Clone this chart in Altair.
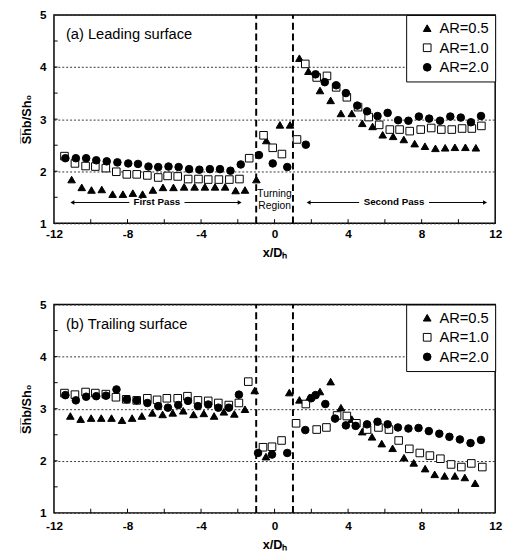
import altair as alt
import pandas as pd

SERIES = ["AR=0.5", "AR=1.0", "AR=2.0"]

# ---------------- (a) Leading surface ----------------
top_x_ar05 = [-11.04, -10.49, -9.96, -9.40, -8.81, -8.25, -7.71, -7.18, -6.62, -6.07, -5.50, -4.92, -4.35, -3.79,
              -3.24, -2.69, -2.12, -1.61, -0.99, -0.45, 0.29, 0.84, 1.35, 1.84, 2.47, 3.05, 3.61, 4.20, 4.77, 5.33,
              5.88, 6.45, 7.03, 7.62, 8.18, 8.75, 9.28, 9.81, 10.38, 10.95]
top_y_ar05 = [1.84, 1.69, 1.64, 1.65, 1.56, 1.56, 1.58, 1.56, 1.64, 1.69, 1.69, 1.70, 1.70, 1.70,
              1.70, 1.70, 1.63, 1.64, 1.84, 2.59, 2.89, 2.89, 4.17, 3.92, 3.55, 3.36, 3.11, 3.11, 2.92, 2.86,
              2.70, 2.67, 2.61, 2.53, 2.48, 2.44, 2.45, 2.46, 2.46, 2.45]

top_x_ar10 = [-11.43, -10.86, -10.28, -9.75, -9.18, -8.61, -8.04, -7.50, -6.92, -6.33, -5.82, -5.27, -4.70, -4.14,
              -3.61, -3.03, -2.46, -1.91, -1.38, -0.60, -0.10, 0.40, 1.22, 1.67, 2.29, 2.85, 3.35, 3.93, 4.54,
              5.12, 5.69, 6.27, 6.80, 7.35, 7.95, 8.52, 9.07, 9.64, 10.20, 10.73, 11.25]
top_y_ar10 = [2.29, 2.15, 2.10, 2.09, 2.06, 1.99, 1.94, 1.94, 1.92, 1.88, 1.91, 1.90, 1.85, 1.85,
              1.84, 1.84, 1.84, 1.85, 2.25, 2.69, 2.45, 2.33, 2.61, 4.06, 3.80, 3.83, 3.61, 3.42, 3.23,
              3.04, 2.89, 2.80, 2.80, 2.77, 2.80, 2.83, 2.80, 2.80, 2.82, 2.82, 2.87]

top_x_ar20 = [-11.38, -10.81, -10.25, -9.70, -9.13, -8.55, -7.96, -7.43, -6.86, -6.33, -5.77, -5.22, -4.65, -4.09,
              -3.52, -2.97, -2.40, -1.84, -0.85, -0.10, 0.69, 1.70, 2.23, 2.73, 3.35, 3.88, 4.50, 5.03, 5.60,
              6.15, 6.72, 7.28, 7.85, 8.41, 9.00, 9.56, 10.13, 10.68, 11.23]
top_y_ar20 = [2.25, 2.25, 2.25, 2.21, 2.19, 2.17, 2.15, 2.14, 2.09, 2.08, 2.09, 2.08, 2.04, 2.03,
              2.04, 2.04, 2.01, 2.13, 2.31, 2.15, 2.08, 2.51, 3.86, 3.71, 3.65, 3.50, 3.26, 3.15, 3.06,
              3.12, 2.98, 2.97, 3.05, 3.01, 2.97, 3.05, 3.03, 2.94, 3.06]

# ---------------- (b) Trailing surface ----------------
bot_x_ar05 = [-11.11, -10.55, -9.98, -9.43, -8.87, -8.30, -7.75, -7.22, -6.65, -6.09, -5.54, -4.97, -4.41, -3.85,
              -3.29, -2.76, -2.19, -1.61, -1.08, -0.47, 0.80, 1.35, 1.90, 2.47, 3.05, 3.61, 4.20, 4.77, 5.30,
              5.83, 6.42, 7.04, 7.57, 8.19, 8.71, 9.25, 9.81, 10.35, 10.91]
bot_y_ar05 = [2.86, 2.80, 2.82, 2.82, 2.82, 2.78, 2.82, 2.86, 2.92, 2.89, 2.92, 2.96, 2.89, 2.91,
              2.86, 2.94, 2.90, 2.99, 3.35, 2.08, 3.31, 3.17, 3.22, 3.33, 3.52, 3.02, 2.80, 2.56, 2.46,
              2.33, 2.24, 2.06, 1.96, 1.85, 1.74, 1.71, 1.71, 1.68, 1.57]

bot_x_ar10 = [-11.43, -10.86, -10.28, -9.75, -9.18, -8.63, -8.07, -7.50, -6.92, -6.39, -5.86, -5.27, -4.74, -4.17,
              -3.61, -3.06, -2.49, -1.94, -1.43, -0.63, -0.14, 0.38, 1.17, 1.70, 2.29, 2.82, 3.40, 3.93, 4.45,
              5.03, 5.65, 6.22, 6.75, 7.33, 7.90, 8.45, 9.02, 9.60, 10.16, 10.70, 11.30]
bot_y_ar10 = [3.30, 3.27, 3.32, 3.30, 3.28, 3.22, 3.18, 3.16, 3.20, 3.17, 3.20, 3.20, 3.24, 3.16,
              3.15, 3.11, 3.07, 3.11, 3.52, 2.26, 2.27, 2.39, 2.72, 3.09, 2.60, 2.64, 2.87, 2.86, 2.72,
              2.60, 2.64, 2.60, 2.39, 2.23, 2.15, 2.10, 2.04, 1.93, 1.88, 1.95, 1.88]

bot_x_ar20 = [-11.38, -10.81, -10.25, -9.70, -9.17, -8.60, -8.04, -7.50, -6.92, -6.33, -5.80, -5.24, -4.71, -4.17,
              -3.61, -3.06, -2.49, -1.94, -0.90, -0.14, 0.69, 1.67, 1.99, 2.23, 2.76, 3.29, 3.88, 4.41, 5.03,
              5.60, 6.15, 6.71, 7.28, 7.83, 8.39, 8.96, 9.51, 10.08, 10.66, 11.23]
bot_y_ar20 = [3.26, 3.16, 3.23, 3.24, 3.25, 3.37, 3.18, 3.16, 3.11, 3.05, 3.02, 3.07, 3.15, 3.05,
              3.08, 3.02, 3.02, 3.27, 2.15, 2.12, 2.15, 2.59, 3.20, 3.26, 3.09, 2.81, 2.68, 2.67, 2.70,
              2.75, 2.70, 2.64, 2.62, 2.63, 2.57, 2.52, 2.46, 2.41, 2.34, 2.40]

x_label_values = [-12, -8, -4, 0, 4, 8, 12]
y_label_values = [1, 2, 3, 4, 5]
x_minor_ticks = [-10, -8, -6, -4, -2, 0, 2, 4, 6, 8, 10]
y_minor_ticks = [1.5, 2, 2.5, 3, 3.5, 4, 4.5]
turn_bounds = [-1, 1]

# annotation arrays (top panel)
arrow_start = [-11.0, -4.9, 1.85, 8.4]
arrow_end = [-7.9, -1.9, 4.6, 11.45]
head_left = [-11.0, 1.85]
head_right = [-1.9, 11.45]
note_x = [-6.4, 6.5, 0.0, 0.0]
note_y = [1.4, 1.4, 1.56, 1.33]
note_text = ["First Pass", "Second Pass", "Turning", "Region"]
note_weight_bold = [True, True, False, False]
ARROW_Y = 1.4

W, H = 451, 213
FONT = "Liberation Sans"

xscale = alt.Scale(domain=[-12, 12], nice=False, zero=False, padding=0)
yscale = alt.Scale(domain=[1, 5], nice=False, zero=False, padding=0)

LEG = dict(orient="top-right", offset=0, title=None, strokeColor="black", fillColor="white", padding=6,
           labelFontSize=15, symbolSize=62, rowPadding=4, symbolStrokeWidth=1,
           symbolOffset=8, labelOffset=5, labelFont=FONT, labelColor="black")


def make_df(xs, ys):
    rows = []
    for name, xv, yv in zip(SERIES, xs, ys):
        for a, b in zip(xv, yv):
            rows.append({"x": a, "y": b, "series": name})
    return pd.DataFrame(rows)


def panel(df, label, annotate, xlab_pad, xtitle_pad):
    pts = alt.Chart(df).mark_point(filled=True, size=60, strokeWidth=1, opacity=1).encode(
        x=alt.X("x:Q", scale=xscale,
                axis=alt.Axis(values=x_label_values, title="x/Dₕ", labelExpr="'' + datum.value",
                              labelFlush=False, grid=False, ticks=False, domain=False,
                              labelPadding=xlab_pad, titlePadding=xtitle_pad)),
        y=alt.Y("y:Q", scale=yscale,
                axis=alt.Axis(values=y_label_values, title="S̅h̅b/Sh₀", labelExpr="'' + datum.value",
                              grid=True, gridDash=[2, 2], gridColor="#333333", gridWidth=1,
                              ticks=False, domain=False, labelFlush=False,
                              labelPadding=8, titlePadding=6)),
        shape=alt.Shape("series:N", scale=alt.Scale(domain=SERIES, range=["triangle-up", "square", "circle"]),
                        legend=alt.Legend(**LEG)),
        fill=alt.Fill("series:N", scale=alt.Scale(domain=SERIES, range=["black", "white", "black"]),
                      legend=alt.Legend(**LEG)),
        stroke=alt.Stroke("series:N", scale=alt.Scale(domain=SERIES, range=["black", "black", "black"]),
                          legend=alt.Legend(**LEG)),
    )

    dashed = alt.Chart(pd.DataFrame({"dx": turn_bounds})).mark_rule(
        color="black", strokeDash=[7, 4], strokeWidth=2).encode(
        x=alt.X("dx:Q", scale=xscale), y=alt.datum(1), y2=alt.datum(5))

    xt = alt.Chart(pd.DataFrame({"tx": x_minor_ticks})).mark_rule(color="black", strokeWidth=1).encode(
        x=alt.X("tx:Q", scale=xscale), y=alt.datum(1), y2=alt.datum(1.08))
    yt = alt.Chart(pd.DataFrame({"ty": y_minor_ticks})).mark_rule(color="black", strokeWidth=1).encode(
        y=alt.Y("ty:Q", scale=yscale), x=alt.datum(-12), x2=alt.datum(-11.8))

    title = alt.Chart(pd.DataFrame({"t": [label]})).mark_text(
        align="left", baseline="middle", fontSize=15, font=FONT, color="black").encode(
        x=alt.datum(-11.35), y=alt.datum(4.63), text="t:N")

    layers = [dashed, xt, yt, title]

    if annotate:
        seg = pd.DataFrame({"a": arrow_start, "b": arrow_end, "yy": [ARROW_Y] * len(arrow_start)})
        rules = alt.Chart(seg).mark_rule(color="black", strokeWidth=1).encode(
            x=alt.X("a:Q", scale=xscale), x2="b:Q", y=alt.Y("yy:Q", scale=yscale))
        hl = alt.Chart(pd.DataFrame({"hx": head_left, "hy": [ARROW_Y] * len(head_left)})).mark_point(
            filled=True, color="black", size=22, opacity=1, shape="triangle-left").encode(
            x=alt.X("hx:Q", scale=xscale), y=alt.Y("hy:Q", scale=yscale))
        hr = alt.Chart(pd.DataFrame({"hx": head_right, "hy": [ARROW_Y] * len(head_right)})).mark_point(
            filled=True, color="black", size=22, opacity=1, shape="triangle-right").encode(
            x=alt.X("hx:Q", scale=xscale), y=alt.Y("hy:Q", scale=yscale))
        notes = pd.DataFrame({"nx": note_x, "ny": note_y, "nt": note_text, "nb": note_weight_bold})
        bold_txt = alt.Chart(notes[notes.nb]).mark_text(
            fontSize=10, font=FONT, fontWeight="bold", color="black", baseline="middle").encode(
            x=alt.X("nx:Q", scale=xscale), y=alt.Y("ny:Q", scale=yscale), text="nt:N")
        reg_txt = alt.Chart(notes[~notes.nb]).mark_text(
            fontSize=10.5, font=FONT, color="black", baseline="middle").encode(
            x=alt.X("nx:Q", scale=xscale), y=alt.Y("ny:Q", scale=yscale), text="nt:N")
        layers += [rules, hl, hr, bold_txt, reg_txt]

    return alt.layer(*layers, pts).properties(width=W, height=H)


top = panel(make_df([top_x_ar05, top_x_ar10, top_x_ar20], [top_y_ar05, top_y_ar10, top_y_ar20]),
            "(a) Leading surface", True, 5, 8)
bot = panel(make_df([bot_x_ar05, bot_x_ar10, bot_x_ar20], [bot_y_ar05, bot_y_ar10, bot_y_ar20]),
            "(b) Trailing surface", False, 8, 7)

chart = alt.vconcat(top, bot, spacing=38).resolve_legend(
    shape="independent", fill="independent", stroke="independent").properties(
    padding={"left": 12, "top": -6, "right": 0, "bottom": 0}
).configure(font=FONT).configure_view(stroke="black", strokeWidth=1.5).configure_axis(
    labelFont=FONT, labelFontWeight="bold", labelFontSize=12, labelColor="black",
    titleFont=FONT, titleFontWeight="bold", titleFontSize=13, titleColor="black"
)

chart.save("out.html", embed_options={"renderer": "svg", "actions": False})
